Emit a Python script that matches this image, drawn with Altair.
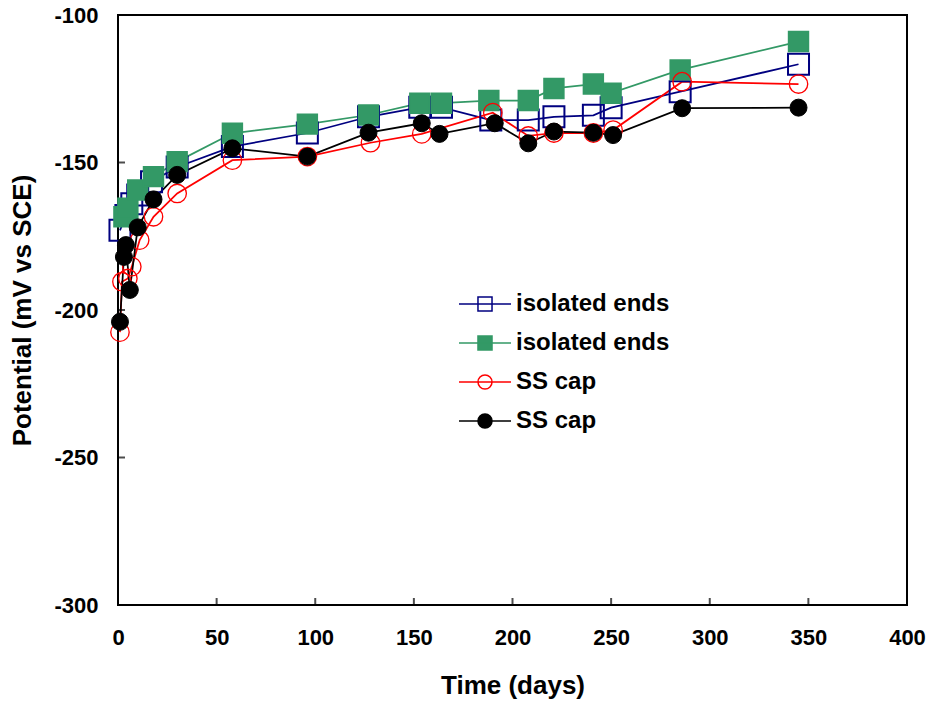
import altair as alt
import pandas as pd

# ---- data ----
series_codes = ["A", "B", "C", "D"]
series_labels = ["isolated ends", "isolated ends", "SS cap", "SS cap"]
series_colors = ["#000080", "#339966", "#FF0000", "#000000"]
series_fills = ["transparent", "#339966", "transparent", "#000000"]

days_blue = [1, 4, 7, 10, 17, 30, 58, 96, 127, 153, 164, 189, 208, 221, 241, 250, 285, 345]
pot_blue = [-173, -168, -164, -161, -156.5, -151.5, -144.6, -140, -134.5, -131.3, -131.3,
            -135.6, -135.6, -134.5, -134, -131.4, -126, -116.7]

days_green = [3, 5, 10, 18, 30, 58, 96, 127, 153, 164, 188, 208, 221, 241, 250, 285, 345]
pot_green = [-168.4, -165.5, -159.3, -154.8, -149.7, -140.1, -137, -133.9, -129.9, -129.9,
             -129, -129, -124.9, -123.4, -126.5, -118.6, -109]

days_red = [1, 2, 5, 7, 11, 18, 30, 58, 96, 128, 154, 190, 208, 221, 241, 251, 286, 345]
pot_red = [-207.5, -190.4, -189.3, -185.3, -176.3, -168.4, -160.5, -149.2, -148, -143.3,
           -140.3, -133.1, -141, -140, -140, -139, -122.6, -123.4]

days_black = [1, 3, 4, 6, 10, 18, 30, 58, 96, 127, 154, 163, 191, 208, 221, 241, 251, 286, 345]
pot_black = [-204, -182, -178, -193.2, -172, -162.5, -154.2, -145.2, -148, -139.9, -136.7,
             -140.3, -136.7, -143.5, -139.5, -139.9, -140.7, -131.6, -131.4]

x_ticks = [0, 50, 100, 150, 200, 250, 300, 350, 400]
y_ticks = [-300, -250, -200, -150, -100]

# ---- build long table ----
rows = []
for code, days, pots in zip(series_codes,
                            [days_blue, days_green, days_red, days_black],
                            [pot_blue, pot_green, pot_red, pot_black]):
    for d, p in zip(days, pots):
        rows.append({"series": code, "day": d, "pot": p})
df = pd.DataFrame(rows)

FONT = "Liberation Sans"
XT = "Time (days)"
YT = "Potential (mV vs SCE)"

x_enc = alt.X("day:Q", title=XT,
              scale=alt.Scale(domain=[0, 400], nice=False, zero=False),
              axis=alt.Axis(values=x_ticks, labelPadding=22, titlePadding=24,
                            labelFlush=False, labelExpr="'' + datum.value"))
y_enc = alt.Y("pot:Q", title=YT,
              scale=alt.Scale(domain=[-300, -100], nice=False, zero=False),
              axis=alt.Axis(values=y_ticks, labelPadding=20, titlePadding=18,
                            labelFlush=False, labelExpr="'' + datum.value"))

stroke_scale = alt.Scale(domain=series_codes, range=series_colors)
fill_scale = alt.Scale(domain=series_codes, range=series_fills)

lines = alt.Chart(df).mark_line(strokeWidth=1.75).encode(
    x=x_enc, y=y_enc,
    stroke=alt.Stroke("series:N", scale=stroke_scale, legend=None),
    detail="series:N",
)

points = alt.Chart(df).mark_point(opacity=1).encode(
    x=x_enc, y=y_enc,
    stroke=alt.Stroke("series:N", scale=stroke_scale, legend=None),
    fill=alt.Fill("series:N", scale=fill_scale, legend=None),
    shape=alt.Shape("series:N", scale=alt.Scale(domain=series_codes,
                                               range=["square", "square", "circle", "circle"]),
                    legend=None),
    size=alt.Size("series:N", scale=alt.Scale(domain=series_codes, range=[441, 289, 272, 324]),
                  legend=None),
    strokeWidth=alt.StrokeWidth("series:N", scale=alt.Scale(domain=series_codes,
                                                            range=[2, 1, 1.5, 1]), legend=None),
)

sq = "M-1,0H1M-0.27,-0.27H0.27V0.27H-0.27Z"
ci = "M-1,0H1M0.27,0A0.27,0.27,0,1,1,-0.27,0A0.27,0.27,0,1,1,0.27,0Z"
label_expr = ("{'A':'isolated ends','B':'isolated ends','C':'SS cap','D':'SS cap'}[datum.label]")

legend = alt.Legend(orient="none", legendX=340, legendY=262, title=None,
                    symbolSize=2704, symbolStrokeWidth=1.5, labelOffset=4,
                    symbolFillColor="transparent",
                    labelFont=FONT, labelFontSize=24, labelFontWeight="bold",
                    labelColor="black", labelLimit=0, rowPadding=0, padding=0,
                    labelExpr=label_expr)

legend_layer = alt.Chart(df).mark_point(opacity=0).encode(
    x=x_enc, y=y_enc,
    stroke=alt.Stroke("series:N", scale=stroke_scale, legend=legend),
    fill=alt.Fill("series:N", scale=fill_scale, legend=legend),
    shape=alt.Shape("series:N", scale=alt.Scale(domain=series_codes, range=[sq, sq, ci, ci]),
                    legend=legend),
)

xt_df = pd.DataFrame({"v": x_ticks})
yt_df = pd.DataFrame({"v": y_ticks})
xticks = alt.Chart(xt_df).mark_tick(orient="vertical", size=14, thickness=2,
                                    color="black", clip=True).encode(
    x=alt.X("v:Q", title=XT), y=alt.datum(-300))
yticks = alt.Chart(yt_df).mark_tick(orient="horizontal", size=14, thickness=2,
                                    color="black", clip=True).encode(
    y=alt.Y("v:Q", title=YT), x=alt.datum(0))

chart = alt.layer(lines, points, legend_layer, xticks, yticks).resolve_scale(
    stroke="independent", fill="independent", shape="independent"
).properties(
    width=789, height=590,
    autosize=alt.AutoSizeParams(type="none"),
    padding={"left": 118, "top": 15, "right": 27, "bottom": 104},
    background="white",
).configure_view(
    stroke="black", strokeWidth=2
).configure_axis(
    domain=False, ticks=False, grid=False,
    labelFont=FONT, labelFontSize=22, labelFontWeight="bold", labelColor="black",
    titleFont=FONT, titleFontSize=26, titleFontWeight="bold", titleColor="black",
)

chart.save("out.html", embed_options={"renderer": "svg", "actions": False})
